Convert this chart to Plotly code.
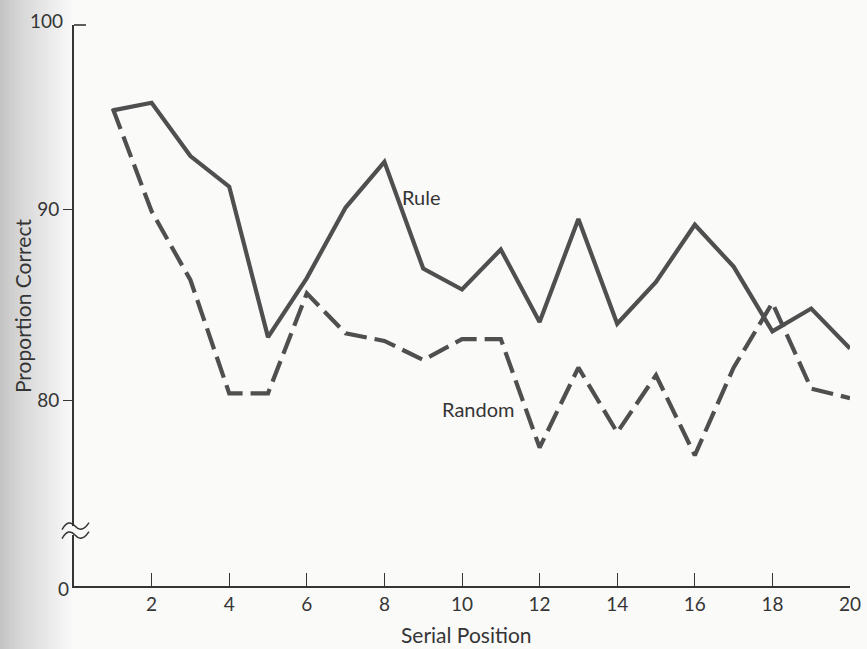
import plotly.graph_objects as go

# ---- data ----
serial_position = list(range(1, 21))
rule = [95.2, 95.6, 92.8, 91.2, 83.3, 86.4, 90.1, 92.5, 86.9, 85.8,
        87.9, 84.1, 89.5, 84.0, 86.2, 89.2, 87.0, 83.6, 84.8, 82.7]
random_ = [95.3, 89.9, 86.3, 80.35, 80.35, 85.6, 83.5, 83.1, 82.1, 83.2,
           83.2, 77.5, 81.7, 78.3, 81.3, 77.1, 81.7, 85.1, 80.6, 80.1]
x_ticks = [2, 4, 6, 8, 10, 12, 14, 16, 18, 20]
y_ticks = [80, 90]
y_top_label = "100"
y_floor_label = "0"
y_range = [70.24, 99.68]   # axis broken below 80; bottom of axis shown as "0"
break_value = 73.15

W, H = 867, 649
ML, MR, MT, MB = 74, 17, 25, 63
FONT = "Lato"
INK = "#353535"
LINE = "#4f4f4f"
BG = "#fafaf9"

fig = go.Figure()
fig.add_trace(go.Scatter(x=serial_position, y=rule, mode="lines", name="Rule",
                         line=dict(color=LINE, width=4.2), showlegend=False))
fig.add_trace(go.Scatter(x=serial_position, y=random_, mode="lines", name="Random",
                         line=dict(color=LINE, width=4.2, dash="22px,8px"),
                         showlegend=False))

pw = W - ML - MR
ph = H - MT - MB
def pxx(px):
    return (px - ML) / pw

shapes = []
# scanned page shading at the left edge
n = 24
for i in range(n):
    t = i / (n - 1)
    v = int(196 + (248 - 196) * (t ** 0.8))
    g = f"rgb({v},{v},{v})"
    shapes.append(dict(type="rect", xref="paper", yref="paper",
                       x0=pxx(i * 3), x1=pxx(i * 3 + 3), y0=-1, y1=2,
                       fillcolor=g, line=dict(width=0), layer="below"))

# cap at the top of the y axis (points inward)
shapes.append(dict(type="line", xref="paper", yref="paper", x0=0, x1=pxx(ML + 12),
                   y0=1, y1=1, line=dict(color=INK, width=1.6), layer="above"))

# axis break: gap in the y-axis line plus two squiggles
by = (break_value - y_range[0]) / (y_range[1] - y_range[0])
shapes.append(dict(type="rect", xref="paper", yref="paper", x0=pxx(ML - 4),
                   x1=pxx(ML + 4), y0=by - 4.5 / ph, y1=by + 4.5 / ph,
                   fillcolor=BG, line=dict(width=0), layer="above"))
for dy in (-4.5, 4.5):
    xa, xm, xb = pxx(ML - 12), pxx(ML + 1), pxx(ML + 15)
    yc = by + dy / ph
    amp = 3.5 / ph
    path = (f"M {xa},{yc - amp} Q {(xa + xm) / 2},{yc + 2.2 * amp} {xm},{yc} "
            f"T {xb},{yc + amp}")
    shapes.append(dict(type="path", xref="paper", yref="paper", path=path,
                       line=dict(color=INK, width=1.5), layer="above"))

annotations = [
    dict(x=8.95, y=90.66, xref="x", yref="y", text="Rule", showarrow=False,
         font=dict(family=FONT, size=20, color=INK)),
    dict(x=10.41, y=79.53, xref="x", yref="y", text="Random", showarrow=False,
         font=dict(family=FONT, size=20, color=INK)),
    dict(x=0, y=y_range[0], xref="paper", yref="y", text=y_floor_label,
         showarrow=False, xanchor="right", yanchor="middle", xshift=-3, yshift=-2,
         font=dict(family=FONT, size=19, color=INK)),
    dict(x=0, y=1, xref="paper", yref="paper", text=y_top_label,
         showarrow=False, xanchor="right", yanchor="middle", xshift=-9, yshift=5,
         font=dict(family=FONT, size=19, color=INK)),
    dict(x=10.12, y=0, xref="x", yref="paper", text="Serial Position",
         showarrow=False, yanchor="middle", yshift=-48,
         font=dict(family=FONT, size=21, color=INK)),
    dict(x=0, y=84.93, xref="paper", yref="y", text="Proportion Correct",
         showarrow=False, textangle=-90, xanchor="center", xshift=-52,
         font=dict(family=FONT, size=21, color=INK)),
]

fig.update_layout(
    width=W, height=H,
    margin=dict(l=ML, r=MR, t=MT, b=MB, autoexpand=False),
    paper_bgcolor=BG, plot_bgcolor=BG,
    font=dict(family=FONT, color=INK, size=18),
    shapes=shapes, annotations=annotations,
    xaxis=dict(range=[0, 20], tickvals=x_ticks, ticks="inside", ticklen=13,
               tickwidth=1.4, tickcolor=INK, showline=True, linecolor=INK,
               linewidth=1.6, showgrid=False, zeroline=False, automargin=False,
               ticklabelstandoff=0, tickfont=dict(family=FONT, size=19, color=INK)),
    yaxis=dict(range=y_range, tickvals=y_ticks, ticks="outside", ticklen=9,
               tickwidth=1.4, tickcolor=INK, showline=True, linecolor=INK,
               linewidth=1.6, showgrid=False, zeroline=False, automargin=False,
               tickfont=dict(family=FONT, size=19, color=INK)),
)

fig.write_html("out.html", config={"displayModeBar": False},
               post_script="document.body.style.margin='0px';")
